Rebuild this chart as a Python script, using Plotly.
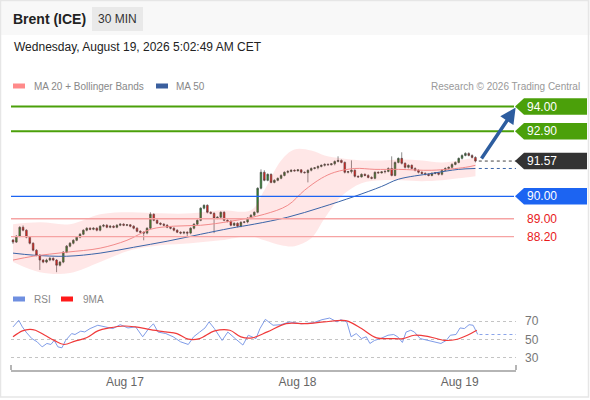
import plotly.graph_objects as go

# ---- data -------------------------------------------------------------
first_open = 88.05
closes = [
    87.96, 88.22, 88.62, 88.49, 88.18, 87.91, 87.60, 87.38, 87.16, 87.07,
    87.16, 87.24, 87.16, 86.93, 87.07, 87.51, 87.78, 87.91, 88.04, 88.18,
    88.31, 88.49, 88.58, 88.53, 88.58, 88.49, 88.67, 88.71, 88.62, 88.67,
    88.62, 88.71, 88.76, 88.71, 88.73, 88.67, 88.58, 88.44, 88.40, 88.36,
    88.58, 89.20, 88.93, 88.80, 88.76, 88.71, 88.62, 88.58, 88.49, 88.40,
    88.36, 88.40, 88.36, 88.58, 88.76, 88.93, 89.47, 89.60, 89.29, 89.24,
    89.02, 89.07, 89.29, 88.93, 88.89, 88.71, 88.80, 88.67, 88.84, 88.86,
    89.02, 89.16, 89.29, 90.36, 91.07, 90.71, 90.98, 90.62, 90.71, 90.80,
    90.93, 91.07, 91.11, 91.16, 91.13, 91.18, 91.07, 91.05, 91.16, 91.24,
    91.27, 91.33, 91.38, 91.42, 91.40, 91.45, 91.55, 91.60, 91.51, 91.07,
    91.10, 91.16, 90.89, 90.86, 90.98, 90.93, 90.84, 90.80, 91.07, 91.04,
    91.09, 91.11, 91.24, 90.93, 91.51, 91.69, 91.47, 91.29, 91.38, 91.24,
    91.16, 91.07, 91.02, 90.98, 90.93, 91.02, 91.05, 90.98, 91.16, 91.24,
    91.29, 91.42, 91.51, 91.69, 91.82, 91.91, 91.82, 91.73, 91.57,
]
highs = [
    88.10, 88.27, 88.67, 88.70, 88.53, 88.22, 87.95, 87.64, 87.42, 87.20,
    87.22, 87.29, 87.28, 87.20, 87.12, 87.56, 87.83, 87.96, 88.09, 88.22,
    88.36, 88.53, 88.62, 88.62, 88.62, 88.62, 88.71, 88.76, 88.76, 88.71,
    88.71, 88.76, 88.80, 88.80, 88.76, 88.76, 88.71, 88.62, 88.49, 88.44,
    88.62, 89.29, 89.24, 88.98, 88.84, 88.80, 88.76, 88.67, 88.62, 88.53,
    88.44, 88.44, 88.44, 88.62, 88.80, 88.98, 89.51, 89.64, 89.64, 89.33,
    89.29, 89.11, 89.33, 89.33, 88.98, 88.93, 88.84, 88.84, 88.89, 88.89,
    89.07, 89.20, 89.33, 90.40, 91.20, 91.16, 91.02, 91.02, 90.76, 90.84,
    90.98, 91.11, 91.16, 91.20, 91.20, 91.20, 91.20, 91.11, 91.20, 91.29,
    91.29, 91.38, 91.42, 91.47, 91.47, 91.47, 91.60, 91.78, 91.64, 91.55,
    91.11, 91.60, 91.20, 90.93, 91.02, 91.02, 90.98, 90.89, 91.11, 91.11,
    91.11, 91.16, 91.29, 91.78, 91.55, 91.73, 91.96, 91.51, 91.42, 91.42,
    91.29, 91.20, 91.11, 91.07, 91.02, 91.07, 91.07, 91.07, 91.20, 91.29,
    91.33, 91.47, 91.55, 91.73, 91.87, 91.96, 91.96, 91.87, 91.78,
]
lows = [
    87.88, 87.92, 88.18, 88.44, 88.13, 87.86, 87.55, 87.33, 86.72, 87.02,
    87.02, 87.11, 87.11, 86.62, 86.88, 87.02, 87.47, 87.73, 87.86, 88.00,
    88.13, 88.27, 88.44, 88.49, 88.49, 88.44, 88.44, 88.62, 88.58, 88.58,
    88.58, 88.58, 88.67, 88.67, 88.67, 88.62, 88.53, 88.40, 88.36, 88.04,
    88.31, 88.53, 88.89, 88.76, 88.71, 88.67, 88.58, 88.53, 88.44, 88.36,
    88.31, 88.31, 88.22, 88.31, 88.53, 88.71, 88.89, 89.42, 89.24, 89.20,
    88.36, 88.98, 89.02, 88.89, 88.84, 88.67, 88.67, 88.62, 88.62, 88.80,
    88.80, 88.98, 89.11, 89.24, 90.31, 90.67, 90.67, 90.58, 90.58, 90.67,
    90.76, 90.89, 91.02, 91.07, 91.11, 91.11, 91.02, 91.02, 90.62, 91.11,
    91.20, 91.20, 91.29, 91.33, 91.38, 91.38, 91.38, 91.51, 91.47, 91.02,
    91.02, 91.02, 90.84, 90.84, 90.84, 90.89, 90.80, 90.76, 90.76, 91.02,
    91.02, 91.02, 91.07, 90.89, 90.89, 91.47, 91.42, 91.24, 91.24, 91.20,
    91.11, 91.02, 90.98, 90.93, 90.89, 90.89, 90.98, 90.93, 90.93, 91.11,
    91.20, 91.24, 91.38, 91.47, 91.64, 91.78, 91.78, 91.69, 91.51,
]

# indicator lines, sampled along the candle index
ma20_x = [0, 6, 16, 26, 34, 41, 48, 56, 65, 75, 82, 87, 92, 96, 102, 108, 115, 125, 135, 138]
ma20_v = [87.16, 87.33, 87.51, 87.69, 88.04, 88.53, 88.67, 88.71, 88.89, 89.20,
          89.60, 90.27, 90.80, 91.07, 91.24, 91.20, 91.20, 91.16, 91.29, 91.38]
ma50_x = [0, 6, 16, 26, 36, 46, 56, 65, 72, 82, 92, 102, 110, 115, 125, 133, 138]
ma50_v = [87.47, 87.38, 87.33, 87.47, 87.73, 88.00, 88.31, 88.58, 88.76, 89.07,
          89.51, 90.00, 90.44, 90.76, 91.02, 91.20, 91.24]
band_x = [0, 8, 17, 26, 35, 44, 53, 62, 71, 75, 80, 84, 89, 93, 98, 104, 110, 116, 122, 128, 133, 138]
band_up = [88.76, 88.84, 88.76, 89.20, 89.29, 89.24, 89.24, 89.38, 89.38, 90.27, 91.60,
           92.09, 92.04, 91.82, 91.69, 91.60, 91.60, 91.64, 91.60, 91.51, 91.60, 91.73]
band_lo = [87.07, 86.62, 86.58, 87.07, 87.60, 87.82, 87.91, 88.04, 88.22, 88.04, 87.82,
           87.78, 88.13, 89.02, 90.00, 90.58, 90.71, 90.71, 90.67, 90.71, 90.80, 90.89]

rsi_x = [0, 1.7, 2.8, 3.9, 5.6, 7.2, 8.7, 10.1, 11.3, 12.3, 13.4, 14.6, 15.7, 17.5, 18.5,
         20.2, 21.4, 23.0, 25.3, 27.6, 29.8, 32.0, 34.3, 36.6, 38.7, 40.5, 41.9, 43.3,
         45.6, 47.8, 50.0, 52.3, 53.9, 55.7, 57.3, 58.5, 60.1, 62.4, 64.1, 66.3, 68.6,
         70.2, 72.5, 73.7, 75.3, 77.6, 79.9, 82.6, 86.0, 89.5, 92.2, 94.5, 96.7, 97.8,
         99.6, 100.9, 102.4, 104.0, 105.4, 106.5, 107.9, 109.7, 111.9, 113.6, 114.8,
         116.2, 117.3, 118.7, 119.8, 121.5, 123.8, 126.0, 127.7, 129.3, 130.5, 132.2,
         133.4, 134.7, 136.1, 137.3, 138.7]
rsi_v = [63.6, 70.7, 63.6, 58, 51, 47.5, 42, 45.7, 44.6, 49, 42, 41, 49, 56.4, 55.4,
         59, 58.2, 61.8, 65.4, 63.6, 61.8, 66, 62.5, 63.6, 52.9, 61.8, 67, 58,
         56.4, 52.9, 47.5, 44.6, 52.9, 58, 62.5, 69, 61.8, 49, 58, 51, 44,
         54.6, 51, 61.8, 71.8, 65.4, 66, 69, 67, 68, 71.4, 73.2, 69, 71.4,
         69, 52.9, 56.4, 51, 52.9, 45.7, 49, 51, 54.6, 55.4, 52.9,
         46.8, 58, 60, 58, 51, 49, 47.5, 45.7, 49, 54.6, 55.4,
         62.5, 61.8, 66, 65.4, 55.4]
rsi_ma_x = [0, 2.8, 5.0, 6.7, 9.5, 12.3, 15.2, 18.5, 21.9, 25.3, 28.7, 33.2, 36.5, 41.0,
            45.5, 48.9, 52.3, 55.7, 60.2, 64.7, 68.0, 71.4, 75.9, 81.5, 87.2, 92.8,
            98.4, 100.1, 104.0, 108.5, 113.0, 116.4, 119.8, 124.3, 128.8, 132.2, 135.6, 138.4]
rsi_ma_v = [52.9, 59.3, 61, 60, 54.6, 49, 44.6, 48.2, 51.8, 59.3, 62.5, 64.6, 63.6, 60.7,
            58.2, 56.4, 50.4, 51, 59.3, 60, 52.9, 51.8, 58.2, 67.1, 67.1, 69,
            70.7, 69.6, 61.8, 51.8, 51, 51, 54.6, 52.9, 49, 50, 54.6, 60]

day_ticks = [33.4, 84.9, 133.3]
day_labels = ["Aug 17", "Aug 18", "Aug 19"]

levels = [94.00, 92.90, 90.00, 89.00, 88.20]
level_kinds = ["target", "target", "pivot", "support", "support"]
last_price = 91.57
rsi_levels = [30, 50, 70]

# ---- layout helpers (pixel -> paper) ---------------------------------
W, H = 590, 400
ML, MR, MT, MB = 11, 74, 90, 30
PW, PH = W - ML - MR, H - MT - MB


def px(x):
    return (x - ML) / PW


def py(y):
    return (H - MB - y) / PH


FONT = "Liberation Sans, Arial, sans-serif"
GREEN, BLUE, DARK, PINK, RED = "#4ba00a", "#1c64f2", "#333333", "#f6a3a3", "#e8191b"
X_RANGE = [-0.6, 150.1]

idx = list(range(len(closes)))
opens = [first_open] + closes[:-1]

fig = go.Figure()

# bollinger band
fig.add_trace(go.Scatter(x=band_x, y=band_lo, mode="lines", line=dict(width=0, shape="spline"),
                         xaxis="x", yaxis="y", hoverinfo="skip", showlegend=False))
fig.add_trace(go.Scatter(x=band_x, y=band_up, mode="lines", line=dict(width=0, shape="spline"),
                         fill="tonexty", fillcolor="rgba(255,40,40,0.11)",
                         xaxis="x", yaxis="y", hoverinfo="skip", showlegend=False))
fig.add_trace(go.Scatter(x=ma50_x, y=ma50_v, mode="lines", line=dict(color="#3a64a8", width=1, shape="spline"),
                         xaxis="x", yaxis="y", hoverinfo="skip", showlegend=False))
fig.add_trace(go.Scatter(x=ma20_x, y=ma20_v, mode="lines", line=dict(color="#f28a8a", width=1, shape="spline"),
                         xaxis="x", yaxis="y", hoverinfo="skip", showlegend=False))
fig.add_trace(go.Candlestick(
    x=idx, open=opens, high=highs, low=lows, close=closes, xaxis="x", yaxis="y",
    increasing=dict(line=dict(color="#3f3f3f", width=0.6), fillcolor="#2e8b2e"),
    decreasing=dict(line=dict(color="#3f3f3f", width=0.6), fillcolor="#e3231c"),
    whiskerwidth=0, showlegend=False, hoverinfo="skip"))

# rsi panel
fig.add_trace(go.Scatter(x=rsi_x, y=rsi_v, mode="lines", line=dict(color="#7f9ce8", width=1),
                         xaxis="x2", yaxis="y2", hoverinfo="skip", showlegend=False))
fig.add_trace(go.Scatter(x=rsi_ma_x, y=rsi_ma_v, mode="lines", line=dict(color="#f03a3a", width=1.2, shape="spline"),
                         xaxis="x2", yaxis="y2", hoverinfo="skip", showlegend=False))

shapes = []
annotations = []

# header band and frame
shapes.append(dict(type="rect", xref="paper", yref="paper", x0=px(0), x1=px(W), y0=py(0), y1=py(35),
                   fillcolor="#f8f8f8", line=dict(width=0), layer="below"))
shapes.append(dict(type="rect", xref="paper", yref="paper", x0=px(92), x1=px(143), y0=py(7), y1=py(31),
                   fillcolor="#e9e9e9", line=dict(width=0), layer="below"))
shapes.append(dict(type="rect", xref="paper", yref="paper", x0=px(0.5), x1=px(588.5), y0=py(0.5), y1=py(397),
                   fillcolor="rgba(0,0,0,0)", line=dict(color="#e6e6e6", width=1.5)))

annotations += [
    dict(text="<b>Brent (ICE)</b>", x=px(11), y=py(19), font=dict(size=14, color="#222")),
    dict(text="30 MIN", x=px(96), y=py(19), font=dict(size=12, color="#333")),
    dict(text="Wednesday, August 19, 2026 5:02:49 AM CET", x=px(12), y=py(47), font=dict(size=12, color="#222")),
    dict(text="MA 20 + Bollinger Bands", x=px(32), y=py(86), font=dict(size=10, color="#888")),
    dict(text="MA 50", x=px(174), y=py(86), font=dict(size=10, color="#888")),
    dict(text="Research © 2026 Trading Central", x=px(582), y=py(86), xanchor="right",
         font=dict(size=10, color="#999")),
    dict(text="RSI", x=px(32), y=py(299), font=dict(size=10, color="#888")),
    dict(text="9MA", x=px(81), y=py(299), font=dict(size=10, color="#888")),
]
for x0, y, col in [(13, 86, "#ff8a8a"), (156, 86, "#3a5f9e"), (13, 299, "#6f8fe0"), (61, 299, "#ff1a1a")]:
    shapes.append(dict(type="rect", xref="paper", yref="paper", x0=px(x0), x1=px(x0 + 12),
                       y0=py(y - 2.5), y1=py(y + 2.5), fillcolor=col, line=dict(width=0)))

# key levels
h = 0.37
for lv, kind in zip(levels, level_kinds):
    col = {"target": GREEN, "pivot": BLUE, "support": PINK}[kind]
    shapes.append(dict(type="line", xref="paper", yref="y", x0=0, x1=px(514), y0=lv, y1=lv,
                       line=dict(color=col, width=2 if kind == "target" else 1.3)))
    if kind == "support":
        annotations.append(dict(text=f"{lv:.2f}", x=px(525), y=lv, yref="y",
                                font=dict(size=12, color=RED)))
    else:
        shapes.append(dict(type="path", xref="paper", yref="y", fillcolor=col, line=dict(width=0),
                           path=f"M {px(515)},{lv} L {px(524)},{lv + h} L {px(587)},{lv + h} "
                                f"L {px(587)},{lv - h} L {px(524)},{lv - h} Z"))
        annotations.append(dict(text=f"{lv:.2f}", x=px(525), y=lv, yref="y",
                                font=dict(size=12, color="white")))

# last price tag
shapes.append(dict(type="path", xref="paper", yref="y", fillcolor=DARK, line=dict(width=0),
                   path=f"M {px(515)},{last_price} L {px(524)},{last_price + h} L {px(587)},{last_price + h} "
                        f"L {px(587)},{last_price - h} L {px(524)},{last_price - h} Z"))
annotations.append(dict(text=f"{last_price:.2f}", x=px(525), y=last_price, yref="y",
                        font=dict(size=12, color="white")))
shapes.append(dict(type="line", xref="x", yref="y", x0=idx[-1] + 1, x1=X_RANGE[1], y0=last_price, y1=last_price,
                   line=dict(color="#444", width=1, dash="dot")))
shapes.append(dict(type="line", xref="x", yref="y", x0=ma50_x[-1] + 1, x1=X_RANGE[1], y0=ma50_v[-1], y1=ma50_v[-1],
                   line=dict(color="#3a64a8", width=1, dash="dot")))
shapes.append(dict(type="line", xref="x2", yref="y2", x0=rsi_x[-1] + 0.5, x1=X_RANGE[1], y0=rsi_v[-1], y1=rsi_v[-1],
                   line=dict(color="#8aa4ea", width=1, dash="dot")))

# x-axis end ticks
for xe in (0, 1):
    shapes.append(dict(type="line", xref="paper", yref="paper", x0=xe, x1=xe, y0=0, y1=py(365),
                       line=dict(color="#b5b5b5", width=2)))

for a in annotations:
    a.setdefault("xref", "paper")
    a.setdefault("yref", "paper")
    a.setdefault("xanchor", "left")
    a.update(showarrow=False, yanchor="middle")
    a["font"]["family"] = FONT

# projection arrow toward the first target
annotations.append(dict(x=idx[-1] + 12, y=levels[0] - 0.05, xref="x", yref="y",
                        ax=idx[-1] + 1.5, ay=last_price + 0.05, axref="x", ayref="y",
                        text="", showarrow=True, arrowhead=2, arrowsize=0.9, arrowwidth=3.5,
                        arrowcolor="#2d5d9f"))

fig.update_layout(
    width=W, height=H,
    margin=dict(l=ML, r=MR, t=MT, b=MB),
    paper_bgcolor="white", plot_bgcolor="white",
    font=dict(family=FONT, color="#666"),
    shapes=shapes, annotations=annotations,
    xaxis=dict(domain=[0, 1], range=X_RANGE, anchor="y", visible=False,
               rangeslider=dict(visible=False), fixedrange=True),
    yaxis=dict(domain=[py(282), 1], range=[86.183, 94.735], visible=False, fixedrange=True),
    xaxis2=dict(domain=[0, 1], range=X_RANGE, anchor="y2", showline=True, linecolor="#b5b5b5",
                linewidth=2, showgrid=False, zeroline=False, ticks="", fixedrange=True,
                tickvals=day_ticks, ticktext=day_labels, tickfont=dict(size=12, color="#666")),
    yaxis2=dict(domain=[0, py(305)], range=[17.0, 87.3], side="right", tickvals=rsi_levels,
                showgrid=True, gridcolor="#c4c4c4", griddash="dot", gridwidth=1, fixedrange=True,
                zeroline=False, showline=False, ticks="", ticklabelstandoff=8,
                tickfont=dict(size=12, color="#777")),
    showlegend=False,
)

# the page's default body margin would push the 590x400 figure out of the window
fig.write_html("out.html", config={"displayModeBar": False},
               post_script="document.body.style.margin='0';")
